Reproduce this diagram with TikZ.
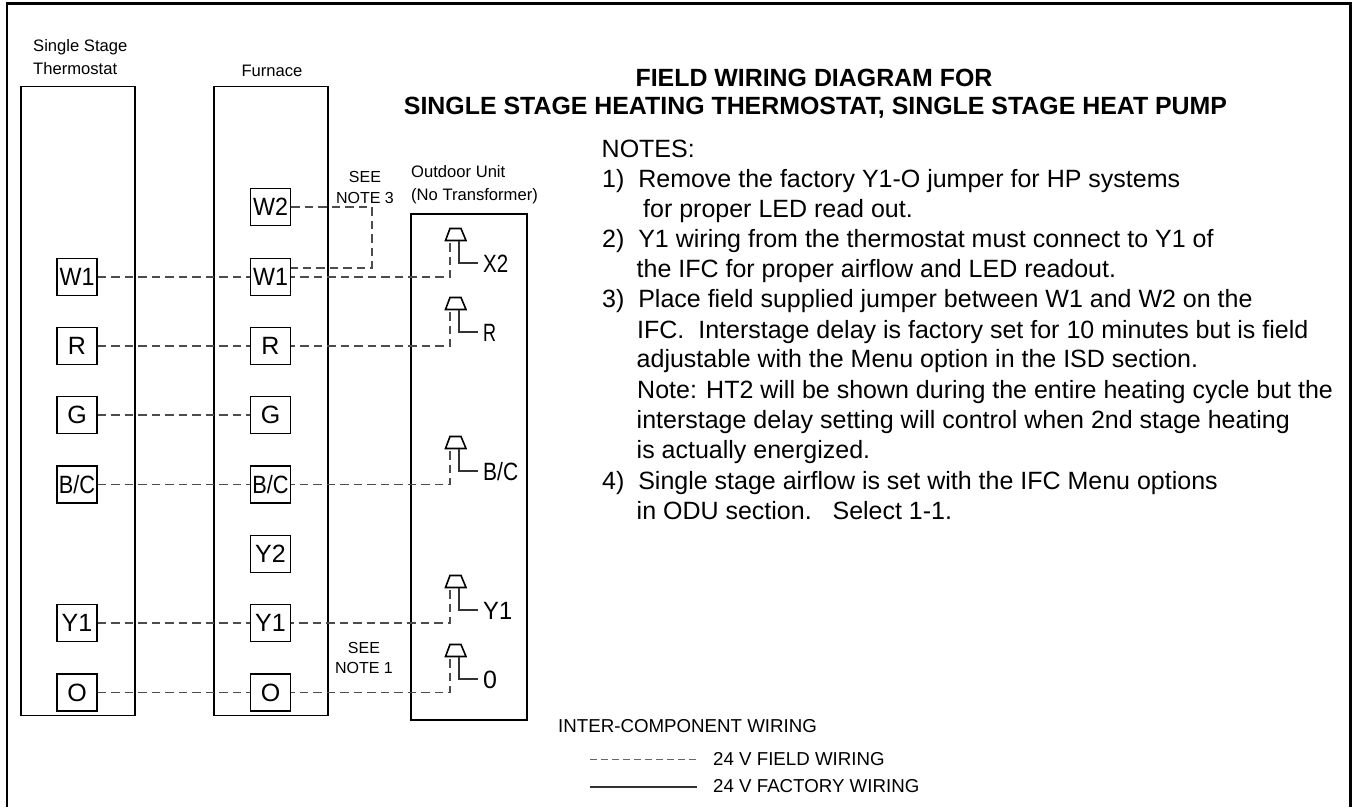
\documentclass[tikz,border=0pt]{standalone}
\usepackage{fontspec}
\setmainfont{Liberation Sans}
\tikzset{
  unitbox/.style={draw=black,line width=1.7pt,inner sep=0pt},
  term/.style={draw=black,line width=1.5pt,minimum width=40pt,minimum height=37pt,inner sep=0pt,font=\fontsize{25}{25}\selectfont},
  wire/.style={dash pattern=on 8.5pt off 5pt,draw=black!70,line width=1.1pt},
  legenddash/.style={dash pattern=on 6.5pt off 4.5pt,draw=black!60,line width=1pt},
  factory/.style={draw=black!80,line width=1.1pt},
  plug/.style={draw=black,line width=1.6pt,line join=miter},
  pinlabel/.style={anchor=west,inner sep=0pt,font=\fontsize{25}{25}\selectfont},
  small/.style={inner sep=0pt,align=left,font=\fontsize{16.6}{23}\selectfont},
  tiny/.style={inner sep=0pt,align=center,font=\fontsize{16}{20.8}\selectfont},
  note/.style={anchor=base west,inner sep=0pt,font=\fontsize{25}{25}\selectfont},
  titletext/.style={inner sep=0pt,font=\fontsize{24.9}{24.9}\bfseries\selectfont},
  legend/.style={anchor=west,inner sep=0pt,font=\fontsize{18.7}{18.7}\selectfont}
}
\newcommand{\sq}[2]{\scalebox{#1}[1]{#2}}
\begin{document}
\begin{tikzpicture}[x=1pt,y=-1pt]
\useasboundingbox (0,0) rectangle (1352,807);
\draw[line width=2.8pt] (7,807) -- (7,3.5) -- (1350.5,3.5) -- (1350.5,807);
% unit boxes
\node[unitbox,minimum width=114.5pt,minimum height=629pt] (tstat) at (78,401) {};
\node[unitbox,minimum width=114.5pt,minimum height=629pt] (furn) at (271,401) {};
\node[unitbox,minimum width=115.5pt,minimum height=506.5pt] (odu) at (469,467) {};
\node[small,anchor=west] (t1) at (33,57.5) {Single Stage\\Thermostat};
\node[small] (t2) at (272,71) {Furnace};
\node[small,anchor=west] (t3) at (411,184.5) {Outdoor Unit\\(No Transformer)};
\node[tiny] (n3) at (365,187.5) {SEE\\NOTE 3};
\node[tiny] (n1) at (364,658) {SEE\\NOTE 1};
% terminals
\foreach \n/\t/\y in {w1/{\sq{0.93}{W1}}/277,r/R/346,g/G/415,bc/{\sq{0.87}{B/C}}/484.5,y1/Y1/623,o/O/692.5}{
  \node[term] (a\n) at (77,\y) {\t};
  \node[term] (b\n) at (270.5,\y) {\t};
}
\node[term] (bw2) at (270.5,207) {\sq{0.93}{W2}};
\node[term] (by2) at (270.5,554) {Y2};
% outdoor plugs
\foreach \n/\t/\y in {w1/{\sq{0.82}{X2}}/0,r/{\sq{0.72}{R}}/69,bc/{\sq{0.84}{B/C}}/208,y1/{\sq{0.95}{Y1}}/347,o/0/416}{
  \coordinate (d\n) at (450,277+\y);
  \coordinate (top\n) at (450,243+\y);
  \coordinate (s\n) at (459,241+\y);
  \coordinate (e\n) at (478,263+\y);
  \draw[plug] (445.5,240.5+\y) -- (450,228.5+\y) -- (461,228.5+\y) -- (466,240.5+\y) -- cycle;
  \draw[factory] (s\n) |- (e\n);
  \draw[wire] (top\n) |- (b\n.east);
  \node[pinlabel] (p\n) at (483,263.5+\y) {\t};
}
% thermostat to furnace wires
\foreach \n in {w1,r,g,bc,y1,o}{
  \draw[wire] (a\n.east) -- (b\n.west);
}
% see note 3 jumper
\coordinate (j1) at (372,207);
\coordinate (j2) at (372,268);
\draw[wire] (bw2.east) -- (j1) -- (j2) -- (bw2.east |- j2);
% title
\node[titletext] (h1) at (814,78) {FIELD WIRING DIAGRAM FOR};
\node[titletext] (h2) at (815.5,108) {SINGLE STAGE HEATING THERMOSTAT, SINGLE STAGE HEAT PUMP};
% notes
\node[note] (l0) at (601.5,157) {NOTES:};
\node[note] (l1) at (602,187) {1)\ \ Remove the factory Y1-O jumper for HP systems};
\node[note] (l2) at (643,217) {for proper LED read out.};
\node[note] (l3) at (602,247) {2)\ \ Y1 wiring from the thermostat must connect to Y1 of};
\node[note] (l4) at (636.5,277) {the IFC for proper airflow and LED readout.};
\node[note] (l5) at (602,307) {3)\ \ Place field supplied jumper between W1 and W2 on the};
\node[note] (l6) at (637,338) {IFC.\ \ Interstage delay is factory set for 10 minutes but is field};
\node[note] (l7) at (636.5,367.5) {adjustable with the Menu option in the ISD section.};
\node[note] (l8) at (637,398) {Note: HT2 will be shown during the entire heating cycle but the};
\node[note] (l9) at (636.5,428) {interstage delay setting will control when 2nd stage heating};
\node[note] (l10) at (636.5,458.5) {is actually energized.};
\node[note] (l11) at (602,489) {4)\ \ Single stage airflow is set with the IFC Menu options};
\node[note] (l12) at (636.5,519) {in ODU section.\ \ \ Select 1-1.};
% legend
\node[legend] (lg0) at (558,726.5) {INTER-COMPONENT WIRING};
\node[legend] (lg1) at (713,759.5) {24 V FIELD WIRING};
\node[legend] (lg2) at (713,786.5) {24 V FACTORY WIRING};
\coordinate (lgd) at (590,759);
\coordinate (lge) at (697,759);
\coordinate (lgf) at (590,787);
\coordinate (lgg) at (697,787);
\draw[legenddash] (lgd) -- (lge);
\draw[factory] (lgf) -- (lgg);
\end{tikzpicture}
\end{document}
